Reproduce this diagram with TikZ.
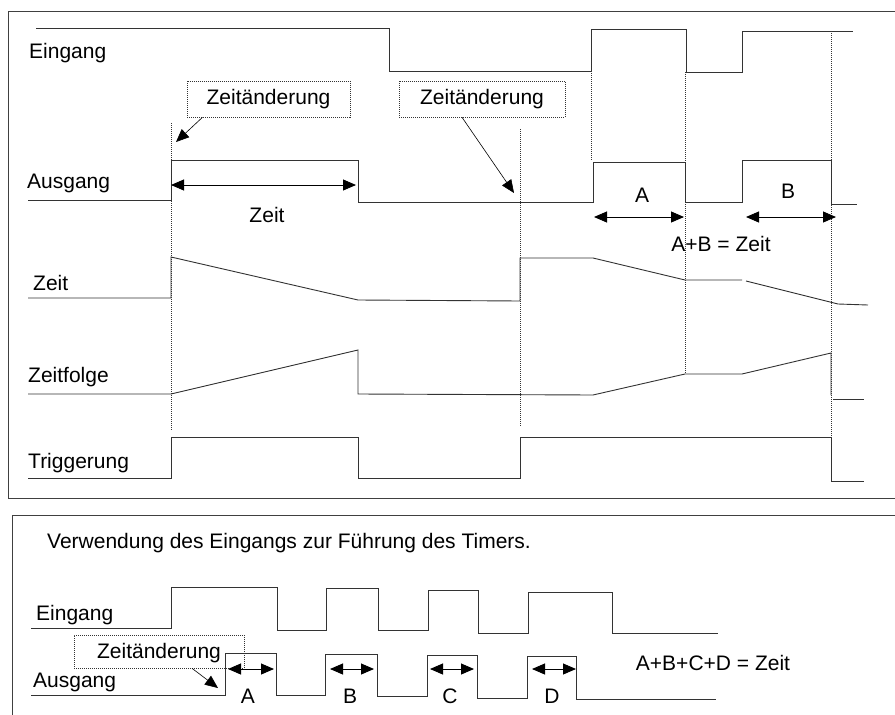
\documentclass[tikz,border=0pt]{standalone}
\usepackage{fontspec}
\setmainfont{Liberation Sans}
\usetikzlibrary{arrows.meta}
\begin{document}
\begin{tikzpicture}[x=1pt,y=-1pt,
  sig/.style={draw=black!80,line width=0.9pt},
  frame/.style={draw=black!75,line width=1pt},
  guide/.style={draw=black!80,line width=0.6pt,dash pattern=on 1pt off 1pt},
  lbl/.style={inner sep=0pt,font=\fontsize{21}{25}\selectfont},
  callbox/.style={lbl,draw=black!80,line width=0.6pt,dash pattern=on 1pt off 1pt},
  dimarr/.style={line width=0.9pt,{Triangle[length=13pt,width=11pt]}-{Triangle[length=13pt,width=11pt]}},
  callarr/.style={line width=0.6pt,-{Triangle[length=13pt,width=11pt]}}]
\useasboundingbox (0,0) rectangle (895,715);
\clip (0,0) rectangle (895,715);
\fill[white] (0,0) rectangle (895,715);
% frames
\draw[frame] (905,11) -- (8,11) -- (8,498) -- (905,498);
\draw[frame] (905,515) -- (12,515) -- (12,725);

% ---------- top panel ----------
\node[lbl,anchor=west] (lEin) at (29,53) {Eingang};
\node[lbl,anchor=west] (lAus) at (27,183) {Ausgang};
\node[lbl,anchor=west] (lZeit) at (33,283) {Zeit};
\node[lbl,anchor=west] (lFolge) at (28,377) {Zeitfolge};
\node[lbl,anchor=west] (lTrig) at (28,463) {Triggerung};

% guides
\draw[guide] (171.5,123) -- (171.5,430);
\draw[guide] (520,129) -- (520,427);
\draw[guide] (591,71) -- (591,160);
\draw[guide] (685,72) -- (685,373);
\draw[guide] (831,33) -- (831,437);

% Eingang
\draw[sig] (36,28) -- (389,28) -- (389,71) -- (591,71) -- (591,29) -- (686,29) -- (686,72) -- (742,72) -- (742,31) -- (853,31);
% Ausgang
\draw[sig] (28,200) -- (171,200) -- (171,160) -- (358,160) -- (358,202) -- (593,202) -- (593,162) -- (685,162) -- (685,202) -- (742,202) -- (742,160) -- (831,160) -- (831,204) -- (857,204);
% Zeit
\draw[sig] (28,298) -- (171,298) -- (171,257) -- (358,300) -- (520,301) -- (520,258) -- (593,258) -- (685,280) -- (742,280);
\draw[sig] (746,281) -- (838,304) -- (868,305);
% Zeitfolge
\draw[sig] (28,394) -- (171,394) -- (358,350) -- (358,394) -- (593,395) -- (685,374) -- (742,374) -- (831,353) -- (831,395);
\draw[sig] (833,399) -- (864,399);
% Triggerung
\draw[sig] (28,478) -- (171,478) -- (171,437) -- (358,437) -- (358,478) -- (520,478) -- (520,437) -- (831,437) -- (831,481) -- (864,481);

% Zeit dimension
\coordinate (z1) at (171,185);
\coordinate (z2) at (356,185);
\draw[dimarr] (z1) -- (z2);
\node[lbl] (tZeit) at (267,215) {Zeit};
% A, B
\coordinate (a1) at (594,217);
\coordinate (a2) at (684,217);
\draw[dimarr] (a1) -- (a2);
\node[lbl] (tA) at (642,195) {A};
\coordinate (b1) at (746,217);
\coordinate (b2) at (836,217);
\draw[dimarr] (b1) -- (b2);
\node[lbl] (tB) at (788,191) {B};
\node[lbl] (tAB) at (721,244) {A+B = Zeit};

% callouts
\node[callbox,minimum width=163pt,minimum height=36pt] (cb1) at (268.5,99) {Zeitänderung};
\coordinate (ct1) at (176,142);
\draw[callarr] ([xshift=-66pt]cb1.south) -- (ct1);
\node[callbox,minimum width=166pt,minimum height=36pt] (cb2) at (482,99) {Zeitänderung};
\coordinate (ct2) at (514,193);
\draw[callarr] ([xshift=-20pt]cb2.south) -- (ct2);

% ---------- bottom panel ----------
\node[lbl,anchor=west] (title) at (47,543) {Verwendung des Eingangs zur Führung des Timers.};
\node[lbl,anchor=west] (bEin) at (36,615) {Eingang};
\node[lbl,anchor=west] (bAus) at (33,682) {Ausgang};

\draw[sig] (31,628) -- (171,628) -- (171,587) -- (277,587) -- (277,630) -- (326,630) -- (326,588) -- (378,588) -- (378,630) -- (428,630) -- (428,590) -- (478,590) -- (478,633) -- (528,633) -- (528,592) -- (612,592) -- (612,633) -- (718,633);
\draw[sig] (31,695) -- (225,695) -- (225,653) -- (276,653) -- (276,695) -- (325,695) -- (325,654) -- (377,654) -- (377,696) -- (427,696) -- (427,655) -- (477,655) -- (477,698) -- (527,698) -- (527,656) -- (576,656) -- (576,699) -- (716,699);

\node[callbox,minimum width=170pt,minimum height=33pt] (cb3) at (159,651.5) {};
\node[lbl] (tz3) at (159,653) {Zeitänderung};
\coordinate (ct3) at (218,688);
\draw[callarr] ([xshift=33pt]cb3.south) -- (ct3);

\coordinate (ba1) at (228,669);
\coordinate (ba2) at (274,669);
\draw[dimarr] (ba1) -- (ba2);
\node[lbl] (bA) at (248,696) {A};
\coordinate (bb1) at (330,669);
\coordinate (bb2) at (374,669);
\draw[dimarr] (bb1) -- (bb2);
\node[lbl] (bB) at (350,696) {B};
\coordinate (bc1) at (430,669);
\coordinate (bc2) at (474,669);
\draw[dimarr] (bc1) -- (bc2);
\node[lbl] (bC) at (450,696) {C};
\coordinate (bd1) at (532,669);
\coordinate (bd2) at (576,669);
\draw[dimarr] (bd1) -- (bd2);
\node[lbl] (bD) at (552,696) {D};
\node[lbl] (bsum) at (713,663) {A+B+C+D = Zeit};
\end{tikzpicture}
\end{document}
